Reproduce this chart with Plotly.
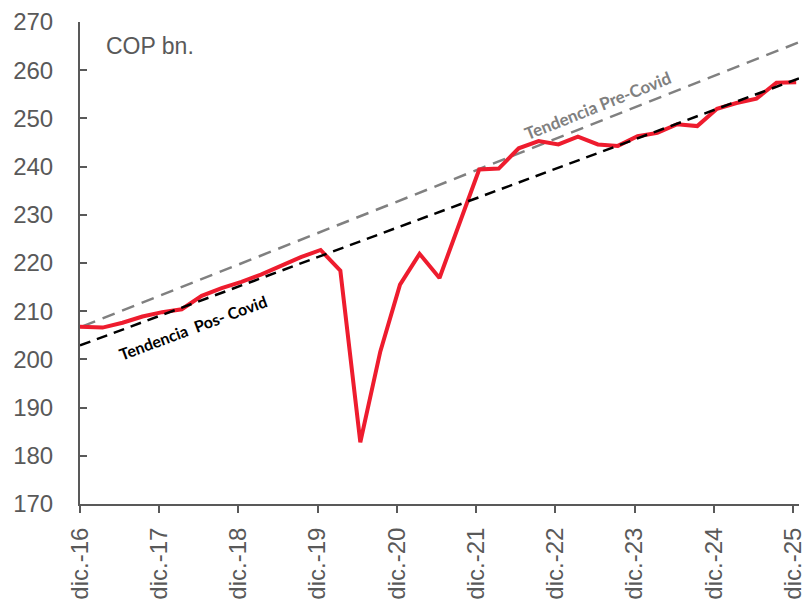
import plotly.graph_objects as go

# Quarterly series (COP bn.)
dates = ["2016-09-15", "2016-12-15",
         "2017-03-15", "2017-06-15", "2017-09-15", "2017-12-15",
         "2018-03-15", "2018-06-15", "2018-09-15", "2018-12-15",
         "2019-03-15", "2019-06-15", "2019-09-15", "2019-12-15",
         "2020-03-15", "2020-06-15", "2020-09-15", "2020-12-15",
         "2021-03-15", "2021-06-15", "2021-09-15", "2021-12-15",
         "2022-03-15", "2022-06-15", "2022-09-15", "2022-12-15",
         "2023-03-15", "2023-06-15", "2023-09-15", "2023-12-15",
         "2024-03-15", "2024-06-15", "2024-09-15", "2024-12-15",
         "2025-03-15", "2025-06-15", "2025-09-15", "2025-12-15"]
values = [206.9, 206.8,
          206.6, 207.6, 208.9, 209.8,
          210.4, 213.2, 214.8, 216.1,
          217.6, 219.4, 221.2, 222.7,
          218.4, 182.8, 201.6, 215.5,
          221.9, 216.9, 228.1, 239.4,
          239.6, 243.8, 245.3, 244.6,
          246.2, 244.6, 244.3, 246.3,
          247.0, 248.8, 248.4, 252.0,
          253.2, 254.1, 257.4, 257.5]

# Trend lines (endpoints)
pre_covid_dates = ["2016-12-15", "2025-12-28"]
pre_covid_values = [206.9, 265.8]
pos_covid_dates = ["2016-12-01", "2025-12-28"]
pos_covid_values = [202.9, 258.3]

# Axis ticks
tick_dates = ["2016-12-01", "2017-12-01", "2018-12-01", "2019-12-01", "2020-12-01",
              "2021-12-01", "2022-12-01", "2023-12-01", "2024-12-01", "2025-12-01"]
tick_labels = ["dic.-16", "dic.-17", "dic.-18", "dic.-19", "dic.-20",
               "dic.-21", "dic.-22", "dic.-23", "dic.-24", "dic.-25"]
y_ticks = [170, 180, 190, 200, 210, 220, 230, 240, 250, 260, 270]

AX = "#595959"
FONT = "Arial, Liberation Sans, sans-serif"
ANN_FONT = "Lato, Open Sans, sans-serif"

fig = go.Figure()
fig.add_trace(go.Scatter(x=pre_covid_dates, y=pre_covid_values, mode="lines",
                         line=dict(color="#808080", width=2.5, dash="13px,8px"),
                         hoverinfo="skip", showlegend=False))
fig.add_trace(go.Scatter(x=dates, y=values, mode="lines",
                         line=dict(color="#EE1C2E", width=4),
                         showlegend=False))
fig.add_trace(go.Scatter(x=pos_covid_dates, y=pos_covid_values, mode="lines",
                         line=dict(color="#000000", width=2.5, dash="11px,7px"),
                         hoverinfo="skip", showlegend=False))

fig.add_annotation(x="2023-06-15", y=252.6, xref="x", yref="y",
                   text="<b>Tendencia Pre-Covid</b>", showarrow=False,
                   textangle=-21.7,
                   font=dict(family=ANN_FONT, size=17, color="#808080"))
fig.add_annotation(x="2018-05-04", y=206.6, xref="x", yref="y",
                   text="<b>Tendencia  Pos- Covid</b>", showarrow=False,
                   textangle=-20.4,
                   font=dict(family=ANN_FONT, size=16, color="#000000"))
fig.add_annotation(x=(104 - 80) / 719, y=(504 - 46) / 482, xref="paper", yref="paper",
                   text="COP bn.", showarrow=False, xanchor="left", yanchor="middle",
                   font=dict(family=FONT, size=23, color=AX))

fig.update_layout(
    width=811, height=600,
    margin=dict(l=72, r=20, t=14, b=104),
    paper_bgcolor="white", plot_bgcolor="white",
    font=dict(family=FONT, size=24, color=AX),
)

fig.update_xaxes(type="date", range=["2016-12-01", "2025-12-28"],
                 tickmode="array", tickvals=tick_dates, ticktext=tick_labels,
                 tickangle=-90, ticks="outside", ticklen=7, tickwidth=2, tickcolor=AX,
                 showline=True, linecolor=AX, linewidth=2, showgrid=False, zeroline=False,
                 tickfont=dict(family=FONT, size=24, color=AX), automargin=False,
                 ticklabelstandoff=5)
fig.update_yaxes(range=[170, 270], tickmode="array", tickvals=y_ticks,
                 ticks="inside", ticklen=7, tickwidth=2, tickcolor=AX,
                 showline=True, linecolor=AX, linewidth=2, showgrid=False, zeroline=False,
                 tickfont=dict(family=FONT, size=24, color=AX), automargin=False,
                 ticklabelstandoff=20)

fig.write_html("out.html")
